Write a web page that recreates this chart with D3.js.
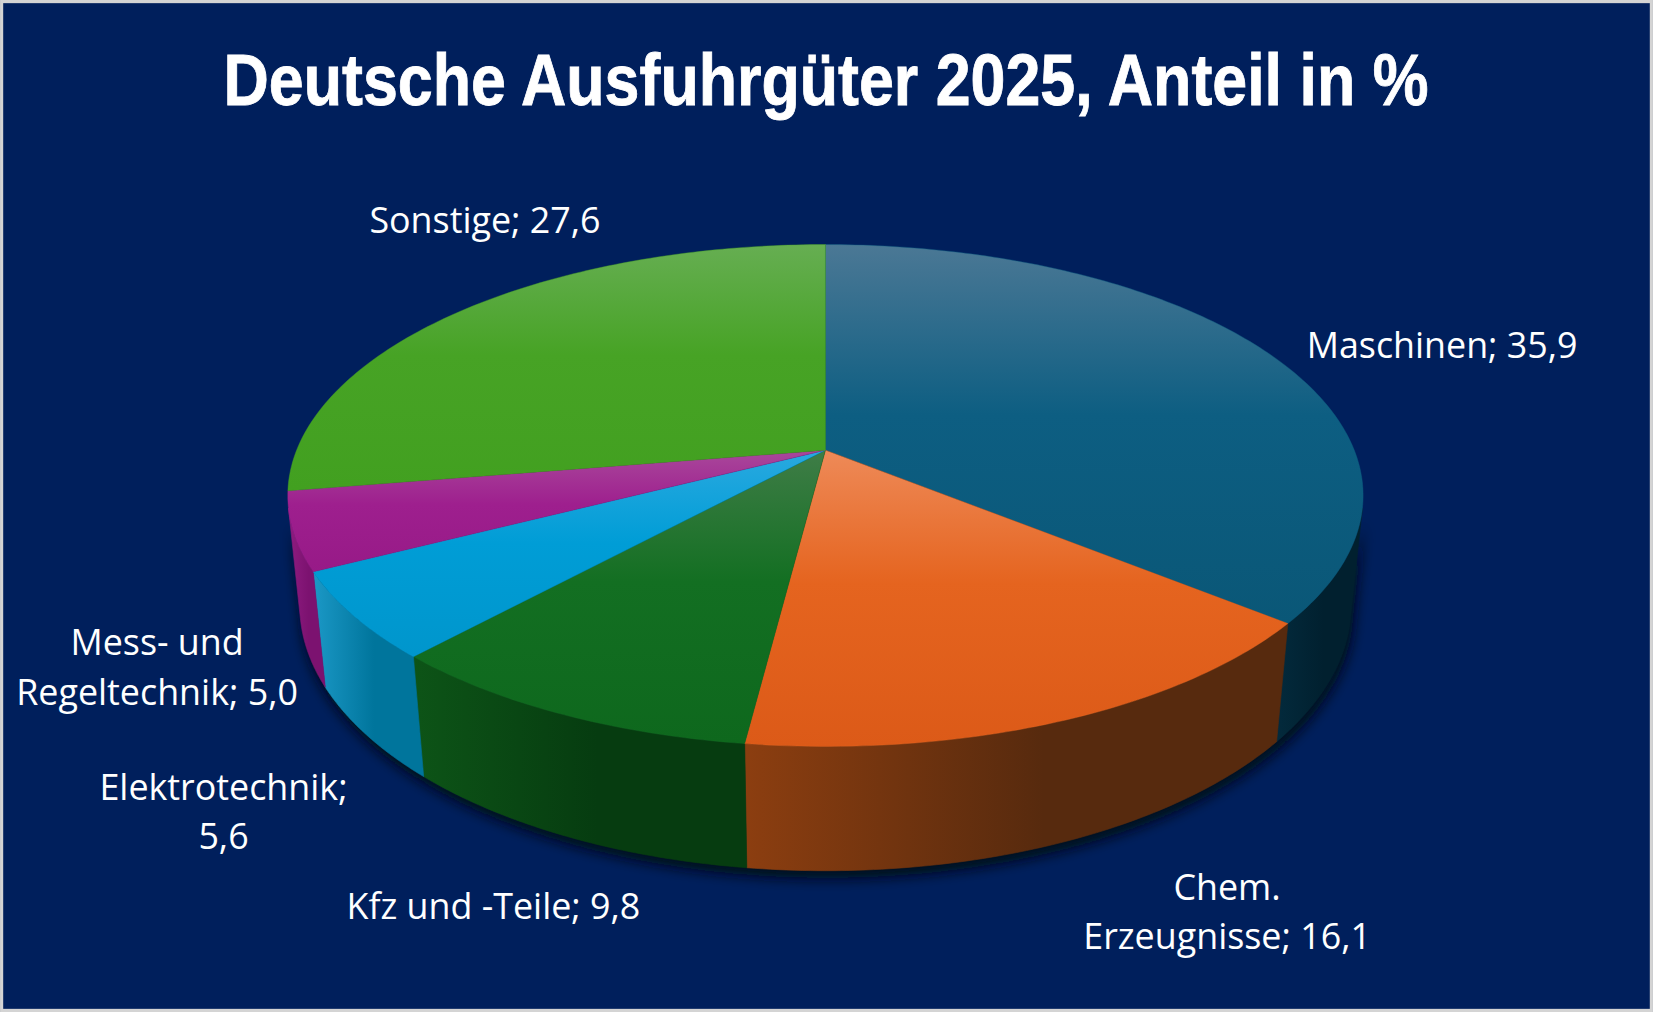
<!DOCTYPE html>
<html>
<head>
<meta charset="utf-8">
<script src="https://cdn.jsdelivr.net/npm/d3@7/dist/d3.min.js"></script>
<style>
  html, body { margin: 0; padding: 0; background: #001f5c; overflow: hidden; }
  svg { display: block; }
</style>
</head>
<body>
<svg id="chart" width="1653" height="1012" viewBox="0 0 1568 960"></svg>
<script>
// ---------- DATA ----------
const title = "Deutsche Ausfuhrgüter 2025, Anteil in %";
const categories = ["Maschinen", "Chem.\nErzeugnisse", "Kfz und -Teile", "Elektrotechnik", "Mess- und\nRegeltechnik", "Sonstige"];
const values = [35.9, 16.1, 9.8, 5.6, 5.0, 27.6];
const valueSeparators = [" ", " ", " ", "\n", " ", " "];

// ---------- STYLE ----------
const topLight  = ["#4b7895", "#ee8a58", "#3f7d47", "#2aa9e0", "#a9489b", "#66ae52"];
const topBase   = ["#0d5e82", "#e5641f", "#136f22", "#009dd6", "#9e1f8e", "#47a325"];
const topDark   = ["#0a5777", "#dc5a18", "#0e681d", "#0096cc", "#971a87", "#42a020"];
const wallLeft  = ["#032a3c", "#8c3e10", "#0d5417", "#1b98c6", "#8e1c80", "#2f7a18"];
const wallRight = ["#01202f", "#572a0e", "#063c10", "#00759c", "#7c1270", "#246014"];
const labelCenters = [[1368, 328], [1164, 865], [468, 860], [212, 770], [149, 633], [460, 209]];

const W = 1568, H = 960;
const svg = d3.select("#chart");
const defs = svg.append("defs");

// background + border
svg.append("rect").attr("width", W).attr("height", H).attr("fill", "#d4d4d4");
svg.append("rect").attr("x", 3).attr("y", 3).attr("width", W - 6).attr("height", H - 6).attr("fill", "#001f5c");

// title
svg.append("text")
  .attr("x", 783.5).attr("y", 100)
  .attr("text-anchor", "middle")
  .attr("font-family", "'Liberation Sans Narrow', 'Arial Narrow', sans-serif")
  .attr("font-weight", "bold")
  .attr("font-size", 68)
  .attr("fill", "#ffffff")
  .attr("stroke", "#ffffff").attr("stroke-width", 0.8)
  .attr("textLength", 1143)
  .attr("lengthAdjust", "spacingAndGlyphs")
  .text(title);

// ---------- 3D perspective projection ----------
const cam = { cx: 783, cy: 427, f: 2466, L: 4.916, Hc: 2.257, Dc: 4.367, t: 0.2365 };
function proj(theta, Y) {
  const X = Math.sin(theta), Z = -Math.cos(theta);
  const denom = cam.L * cam.L - Y * cam.Hc - Z * cam.Dc;
  return [cam.cx + cam.f * cam.L * X / denom,
          cam.cy - cam.f * (Y * cam.Dc - cam.Hc * Z) / denom];
}
// angle scale for sampling arcs
function arcPoints(a0, a1, Y, n) {
  const s = d3.scaleLinear().domain([0, n]).range([a0, a1]);
  return d3.range(n + 1).map(i => proj(s(i), Y));
}
const line = d3.line().curve(d3.curveLinear);

const arcs = d3.pie().sort(null).value(d => d)(values);

// visible (front-facing) wall range
const silA = Math.acos(-1 / cam.Dc);
const silB = 2 * Math.PI - silA;

// gradients
arcs.forEach((a, i) => {
  const g = defs.append("linearGradient").attr("id", "top" + i)
    .attr("x1", 0).attr("y1", 0).attr("x2", 0).attr("y2", 1);
  g.append("stop").attr("offset", "0%").attr("stop-color", topLight[i]);
  g.append("stop").attr("offset", "45%").attr("stop-color", topBase[i]);
  g.append("stop").attr("offset", "100%").attr("stop-color", topDark[i]);
  const w = defs.append("linearGradient").attr("id", "wall" + i)
    .attr("x1", 0).attr("y1", 0).attr("x2", 1).attr("y2", 0);
  w.append("stop").attr("offset", "0%").attr("stop-color", wallLeft[i]);
  w.append("stop").attr("offset", "55%").attr("stop-color", wallRight[i]);
  w.append("stop").attr("offset", "100%").attr("stop-color", wallRight[i]);
});

const blur = defs.append("filter").attr("id", "shadow")
  .attr("x", "-10%").attr("y", "-10%").attr("width", "120%").attr("height", "130%");
blur.append("feGaussianBlur").attr("stdDeviation", 6);

// wall geometry
const walls = arcs.map((a, i) => {
  const a0 = Math.max(a.startAngle, silA), a1 = Math.min(a.endAngle, silB);
  if (a1 <= a0) return null;
  const topPts = arcPoints(a0, a1, 0, 80);
  const botPts = arcPoints(a1, a0, -cam.t, 80);
  return { i, pts: topPts.concat(botPts) };
}).filter(d => d);

// shadow
const shadowG = svg.append("g").attr("filter", "url(#shadow)").attr("transform", "translate(2,7)");
shadowG.append("path")
  .attr("d", line(arcPoints(0, 2 * Math.PI, -cam.t, 240)) + "Z")
  .attr("fill", "#000814").attr("opacity", 0.9);
walls.forEach(w => shadowG.append("path").attr("d", line(w.pts) + "Z").attr("fill", "#000814").attr("opacity", 0.9));

// walls
svg.append("g").selectAll("path").data(walls).join("path")
  .attr("d", d => line(d.pts) + "Z")
  .attr("fill", d => `url(#wall${d.i})`)
  .attr("stroke", d => `url(#wall${d.i})`).attr("stroke-width", 0.6);

// tops
svg.append("g").selectAll("path").data(arcs).join("path")
  .attr("d", a => {
    const n = Math.max(8, Math.ceil((a.endAngle - a.startAngle) * 60));
    return line([[cam.cx, cam.cy]].concat(arcPoints(a.startAngle, a.endAngle, 0, n))) + "Z";
  })
  .attr("fill", (a, i) => `url(#top${i})`)
  .attr("stroke", (a, i) => topBase[i]).attr("stroke-width", 0.4);

// labels
const fmt = v => d3.format(".1f")(v).replace(".", ",");
const lineH = 47;
arcs.forEach((a, i) => {
  const txt = categories[i] + ";" + valueSeparators[i] + fmt(values[i]);
  const lines = txt.split("\n");
  const [lx, ly] = labelCenters[i];
  const t = svg.append("text")
    .attr("text-anchor", "middle")
    .attr("font-family", "'Open Sans', 'Noto Sans', sans-serif")
    .attr("font-size", 34)
    .attr("fill", "#ffffff");
  lines.forEach((l, k) => {
    t.append("tspan").attr("x", lx)
      .attr("y", ly + 12 + (k - (lines.length - 1) / 2) * lineH)
      .text(l);
  });
});
</script>
</body>
</html>
